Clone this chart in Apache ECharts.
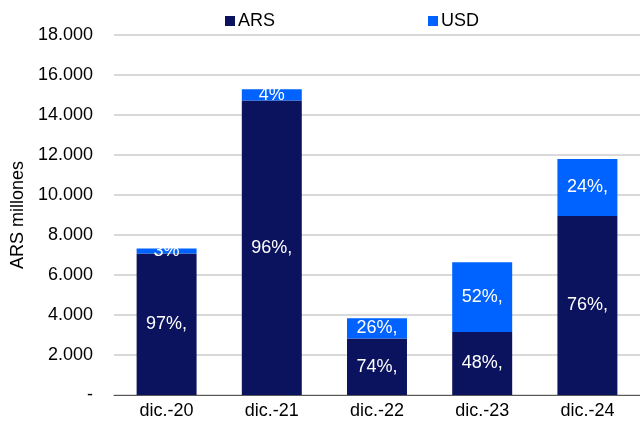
<!DOCTYPE html>
<html>
<head>
<meta charset="utf-8">
<script src="https://cdn.jsdelivr.net/npm/echarts@6/dist/echarts.min.js"></script>
<style>html,body{margin:0;padding:0;background:#fff}#c{width:640px;height:425px}</style>
</head>
<body>
<div id="c"></div>
<script>
const categories = ['dic.-20', 'dic.-21', 'dic.-22', 'dic.-23', 'dic.-24'];
const arsValues = [7080, 14720, 2820, 3150, 8950];
const usdValues = [250, 570, 1015, 3485, 2850];
const arsLabels = ['97%,', '96%,', '74%,', '48%,', '76%,'];
const usdLabels = ['3%', '4%', '26%,', '52%,', '24%,'];
const yTicks = [0, 2000, 4000, 6000, 8000, 10000, 12000, 14000, 16000, 18000];

const FONT = 'Liberation Sans, Arial, sans-serif';
function fmt(v) {
  if (v === 0) return '-';
  return String(v).replace(/\B(?=(\d{3})+(?!\d))/g, '.');
}
const chart = echarts.init(document.getElementById('c'), null, {renderer: 'canvas'});
chart.setOption({
  animation: false,
  textStyle: {fontFamily: FONT},
  legend: {
    left: 220, top: 7,
    itemWidth: 10, itemHeight: 10, itemGap: 153,
    icon: 'rect',
    textStyle: {fontSize: 18, color: '#000', fontFamily: FONT, padding: [0, 0, 0, -2]},
    data: ['ARS', 'USD']
  },
  grid: {left: 114, top: 35, bottom: 30, right: -8, containLabel: false},
  xAxis: {
    type: 'category',
    data: categories,
    axisLine: {lineStyle: {color: '#595959', width: 1}},
    axisTick: {show: false},
    axisLabel: {fontSize: 18, color: '#000', margin: 7, fontFamily: FONT}
  },
  yAxis: {
    type: 'value',
    min: yTicks[0], max: yTicks[yTicks.length - 1], interval: 2000,
    name: 'ARS millones',
    nameLocation: 'middle',
    nameGap: 86,
    nameTextStyle: {fontSize: 18, color: '#000', fontFamily: FONT},
    axisLine: {show: false},
    axisTick: {show: false},
    splitLine: {lineStyle: {color: '#d9d9d9', width: 2}},
    axisLabel: {fontSize: 18, color: '#000', margin: 21, fontFamily: FONT, formatter: fmt}
  },
  series: [
    {
      name: 'ARS', type: 'bar', stack: 'total', barWidth: '57%',
      itemStyle: {color: '#0c135e'},
      data: arsValues,
      label: {show: true, position: 'inside', color: '#fff', fontSize: 18, fontFamily: FONT,
        formatter: p => arsLabels[p.dataIndex]}
    },
    {
      name: 'USD', type: 'bar', stack: 'total', barWidth: '57%',
      itemStyle: {color: '#0062ff'},
      data: usdValues,
      label: {show: true, position: 'inside', color: '#fff', fontSize: 18, fontFamily: FONT,
        formatter: p => usdLabels[p.dataIndex]}
    }
  ]
});
</script>
</body>
</html>
